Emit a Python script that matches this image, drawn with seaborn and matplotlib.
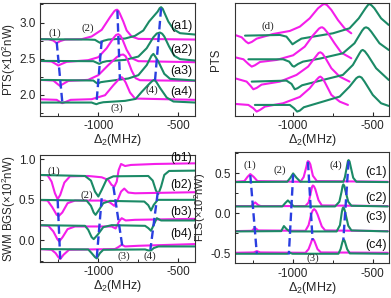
import numpy as np
import matplotlib
matplotlib.use("Agg")
import matplotlib.pyplot as plt
import seaborn as sns
from matplotlib.ticker import MultipleLocator, FormatStrFormatter

# ---------------- data: panel (a) PTS ----------------
A1_PINK_X = [-1375, -1312, -1281, -1260, -1240, -1208, -1104, -1042, -979, -927, -900, -891, -883, -874, -865, -844, -823, -792, -750, -583, -396]
A1_PINK_Y = [2.770, 2.770, 2.751, 2.715, 2.742, 2.765, 2.770, 2.807, 2.899, 3.074, 3.157, 3.172, 3.177, 3.160, 3.120, 3.014, 2.890, 2.807, 2.774, 2.770, 2.765]
A1_GREEN_X = [-1375, -1063, -1021, -1000, -988, -969, -938, -833, -771, -719, -683, -656, -629, -617, -608, -598, -588, -563, -531, -490, -396]
A1_GREEN_Y = [2.770, 2.765, 2.761, 2.733, 2.719, 2.747, 2.765, 2.779, 2.816, 2.890, 3.014, 3.083, 3.152, 3.198, 3.212, 3.190, 3.138, 3.014, 2.908, 2.853, 2.834]

A2_PINK_X = [-1375, -1292, -1267, -1250, -1233, -1198, -1063, -1000, -948, -906, -889, -875, -862, -850, -823, -792, -750, -396]
A2_PINK_Y = [2.470, 2.461, 2.429, 2.406, 2.424, 2.457, 2.480, 2.521, 2.645, 2.784, 2.828, 2.839, 2.818, 2.770, 2.622, 2.507, 2.466, 2.452]
A2_GREEN_X = [-1375, -1031, -1008, -994, -975, -948, -833, -750, -698, -656, -635, -615, -601, -588, -558, -525, -490, -396]
A2_GREEN_Y = [2.470, 2.466, 2.443, 2.429, 2.452, 2.466, 2.484, 2.530, 2.645, 2.797, 2.848, 2.862, 2.845, 2.807, 2.668, 2.540, 2.494, 2.475]

A3_PINK_X = [-1375, -1281, -1256, -1240, -1219, -1187, -1063, -1000, -938, -885, -862, -844, -830, -817, -792, -767, -740, -396]
A3_PINK_Y = [2.208, 2.199, 2.153, 2.125, 2.153, 2.194, 2.208, 2.273, 2.411, 2.521, 2.552, 2.558, 2.535, 2.484, 2.337, 2.231, 2.203, 2.194]
A3_GREEN_X = [-1375, -1031, -1015, -1004, -985, -958, -813, -750, -698, -668, -656, -644, -625, -588, -552, -396]
A3_GREEN_Y = [2.208, 2.199, 2.171, 2.157, 2.176, 2.185, 2.227, 2.273, 2.411, 2.540, 2.567, 2.530, 2.461, 2.291, 2.222, 2.199]

A4_PINK_X = [-1375, -1260, -1240, -1225, -1204, -1173, -1042, -958, -906, -875, -862, -854, -844, -829, -802, -771, -396]
A4_PINK_Y = [1.941, 1.932, 1.904, 1.886, 1.904, 1.932, 1.941, 1.996, 2.134, 2.208, 2.238, 2.245, 2.225, 2.171, 2.033, 1.950, 1.932]
A4_GREEN_X = [-1375, -1042, -1025, -1012, -996, -969, -833, -767, -729, -688, -662, -650, -638, -615, -573, -531, -396]
A4_GREEN_Y = [1.895, 1.895, 1.881, 1.872, 1.886, 1.899, 1.918, 1.945, 2.042, 2.139, 2.195, 2.208, 2.180, 2.098, 1.964, 1.909, 1.895]

A_DASH_X = [[-1260, -1225], [-979, -1010], [-881, -865], [-608, -646]]
A_DASH_Y = [[2.73, 1.90], [2.751, 1.932], [3.166, 2.208], [3.198, 2.199]]
A_NUM_X = [-1271, -1063, -885, -667]
A_NUM_Y = [2.853, 2.922, 1.817, 2.06]
A_TAGS = ["(a1)", "(a2)", "(a3)", "(a4)"]
A_TAG_Y = [2.954, 2.622, 2.337, 2.04]

# ---------------- data: panel (d) PTS (simulated) ----------------
D1_PINK_X = [-1365, -1323, -1296, -1281, -1260, -1229, -1125, -1021, -958, -896, -844, -815, -802, -788, -760, -719, -677, -635]
D1_PINK_Y = [2.43, 2.36, 2.23, 2.18, 2.22, 2.32, 2.46, 2.55, 2.68, 2.93, 3.23, 3.34, 3.36, 3.33, 3.18, 2.88, 2.63, 2.48]
D1_GREEN_X = [-1302, -1083, -1042, -1017, -1004, -979, -948, -875, -750, -646, -588, -546, -530, -521, -508, -490, -448, -400]
D1_GREEN_Y = [2.41, 2.43, 2.38, 2.23, 2.15, 2.23, 2.32, 2.38, 2.48, 2.63, 2.93, 3.23, 3.33, 3.36, 3.32, 3.23, 2.93, 2.73]

D2_PINK_X = [-1365, -1312, -1281, -1260, -1240, -1208, -1104, -1000, -927, -875, -838, -826, -817, -805, -781, -740, -698, -635]
D2_PINK_Y = [1.76, 1.70, 1.56, 1.48, 1.52, 1.62, 1.68, 1.82, 2.08, 2.42, 2.62, 2.655, 2.66, 2.62, 2.48, 2.18, 1.90, 1.73]
D2_GREEN_X = [-1281, -1063, -1025, -1004, -994, -969, -938, -833, -688, -615, -567, -553, -542, -528, -510, -458, -400]
D2_GREEN_Y = [1.70, 1.70, 1.63, 1.50, 1.48, 1.56, 1.63, 1.72, 1.88, 2.18, 2.56, 2.64, 2.66, 2.63, 2.53, 2.18, 1.98]

D3_PINK_X = [-1365, -1292, -1267, -1250, -1229, -1198, -1083, -979, -906, -858, -840, -829, -816, -800, -760, -708, -646]
D3_PINK_Y = [1.13, 1.03, 0.90, 0.80, 0.84, 0.94, 1.03, 1.23, 1.48, 1.78, 1.89, 1.91, 1.87, 1.76, 1.43, 1.18, 1.03]
D3_GREEN_X = [-1260, -1042, -1010, -990, -973, -944, -813, -688, -625, -583, -572, -563, -550, -531, -479, -400]
D3_GREEN_Y = [1.03, 1.06, 0.96, 0.80, 0.83, 0.92, 1.08, 1.23, 1.53, 1.88, 1.96, 1.98, 1.94, 1.82, 1.43, 1.08]

D4_PINK_X = [-1365, -1281, -1250, -1229, -1208, -1177, -1063, -958, -896, -854, -838, -829, -818, -802, -760, -708, -656]
D4_PINK_Y = [0.36, 0.33, 0.23, 0.13, 0.18, 0.28, 0.38, 0.57, 0.83, 1.08, 1.16, 1.18, 1.14, 1.02, 0.63, 0.43, 0.33]
D4_GREEN_X = [-1240, -1021, -994, -975, -958, -933, -813, -708, -646, -604, -592, -583, -570, -552, -500, -448, -400]
D4_GREEN_Y = [0.33, 0.33, 0.23, 0.13, 0.16, 0.26, 0.43, 0.58, 0.88, 1.13, 1.17, 1.18, 1.15, 1.03, 0.63, 0.38, 0.30]

D_TAG_X = -1156
D_TAG_Y = 2.68

# ---------------- data: panel (b) SWM BGS ----------------
B1_PINK_X = [-1375, -1317, -1292, -1271, -1254, -1238, -1212, -1177, -1063, -979, -938, -917, -900, -885, -873, -858, -833, -796, -646, -396]
B1_PINK_Y = [0.807, 0.803, 0.725, 0.581, 0.508, 0.561, 0.713, 0.790, 0.794, 0.778, 0.745, 0.684, 0.663, 0.725, 0.868, 0.942, 0.917, 0.930, 0.942, 0.950]
B1_GREEN_X = [-1375, -1083, -1046, -1021, -1000, -979, -948, -906, -688, -660, -640, -625, -608, -588, -558, -396]
B1_GREEN_Y = [0.807, 0.794, 0.737, 0.602, 0.541, 0.622, 0.753, 0.790, 0.794, 0.737, 0.614, 0.573, 0.663, 0.807, 0.856, 0.860]

B2_PINK_X = [-1375, -1317, -1288, -1260, -1246, -1225, -1192, -1146, -958, -927, -900, -879, -858, -838, -813, -771, -396]
B2_PINK_Y = [0.500, 0.491, 0.410, 0.315, 0.303, 0.344, 0.459, 0.491, 0.491, 0.467, 0.426, 0.500, 0.602, 0.639, 0.590, 0.581, 0.594]
B2_GREEN_X = [-1375, -1073, -1046, -1029, -1017, -996, -969, -927, -713, -688, -671, -654, -629, -396]
B2_GREEN_Y = [0.500, 0.491, 0.426, 0.344, 0.315, 0.377, 0.459, 0.487, 0.479, 0.434, 0.369, 0.438, 0.500, 0.500]

B3_PINK_X = [-1375, -1312, -1281, -1256, -1244, -1223, -1192, -1146, -917, -892, -871, -854, -829, -771, -396]
B3_PINK_Y = [0.188, 0.180, 0.111, 0.016, -0.012, 0.041, 0.139, 0.172, 0.172, 0.147, 0.233, 0.274, 0.246, 0.254, 0.266]
B3_GREEN_X = [-1375, -1083, -1063, -1042, -1029, -1004, -969, -917, -708, -688, -671, -654, -635, -608, -396]
B3_GREEN_Y = [0.188, 0.180, 0.131, 0.041, 0.016, 0.070, 0.164, 0.188, 0.180, 0.152, 0.119, 0.192, 0.274, 0.246, 0.246]

B4_PINK_X = [-1375, -1292, -1267, -1250, -1238, -1217, -1183, -896, -875, -854, -833, -750, -396]
B4_PINK_Y = [-0.106, -0.115, -0.156, -0.205, -0.229, -0.176, -0.115, -0.106, -0.082, -0.053, -0.074, -0.066, -0.045]
B4_GREEN_X = [-1375, -1063, -1042, -1021, -1010, -990, -969, -708, -688, -671, -654, -625, -396]
B4_GREEN_Y = [-0.106, -0.111, -0.156, -0.205, -0.221, -0.156, -0.115, -0.111, -0.123, -0.123, -0.094, -0.074, -0.074]

B_DASH_X = [[-1254, -1238], [-979, -1010], [-906, -850], [-629, -675]]
B_DASH_Y = [[0.50, -0.23], [0.52, -0.217], [0.663, -0.074], [0.59, -0.115]]
B_NUM_X = [-1281, -1073, -838, -677]
B_NUM_Y = [0.848, 0.561, -0.197, -0.197]
B_TAGS = ["(b1)", "(b2)", "(b3)", "(b4)"]
B_TAG_Y = [1.02, 0.68, 0.35, 0.08]

# ---------------- data: panel (c) FLS ----------------
C1_PINK_X = [-1368, -1306, -1286, -1269, -1248, -1224, -954, -934, -917, -911, -907, -900, -892, -876, -851, -406]
C1_PINK_Y = [0.396, 0.404, 0.458, 0.492, 0.458, 0.404, 0.396, 0.454, 0.583, 0.637, 0.654, 0.645, 0.613, 0.471, 0.404, 0.396]
C1_GREEN_X = [-1368, -1037, -1017, -1000, -979, -954, -685, -675, -661, -656, -652, -646, -640, -623, -603, -406]
C1_GREEN_Y = [0.392, 0.396, 0.446, 0.500, 0.446, 0.396, 0.396, 0.454, 0.604, 0.655, 0.667, 0.650, 0.596, 0.446, 0.396, 0.392]

C2_PINK_X = [-1368, -1264, -1248, -1238, -1219, -1203, -923, -903, -888, -881, -876, -869, -861, -841, -820, -406]
C2_PINK_Y = [0.092, 0.092, 0.121, 0.1375, 0.104, 0.092, 0.092, 0.1375, 0.271, 0.335, 0.350, 0.338, 0.304, 0.167, 0.100, 0.092]
C2_GREEN_X = [-1368, -1068, -1048, -1033, -1012, -996, -737, -710, -696, -690, -685, -679, -673, -654, -634, -406]
C2_GREEN_Y = [0.0875, 0.0875, 0.133, 0.1625, 0.121, 0.0875, 0.0875, 0.146, 0.271, 0.340, 0.3625, 0.345, 0.292, 0.146, 0.096, 0.0875]

C3_PINK_X = [-1368, -1259, -1240, -1219, -923, -903, -886, -876, -868, -858, -847, -820, -799, -406]
C3_PINK_Y = [-0.221, -0.217, -0.179, -0.2125, -0.217, -0.146, -0.004, 0.040, 0.054, 0.035, -0.0125, -0.1625, -0.2125, -0.221]
C3_GREEN_X = [-1368, -1075, -1058, -1041, -1021, -727, -706, -694, -689, -685, -680, -673, -654, -634, -406]
C3_GREEN_Y = [-0.225, -0.221, -0.158, -0.196, -0.225, -0.225, -0.146, 0.021, 0.065, 0.075, 0.062, 0.0125, -0.154, -0.2125, -0.225]

C4_PINK_X = [-1368, -1248, -1228, -1207, -923, -903, -888, -882, -876, -870, -863, -847, -826, -406]
C4_PINK_Y = [-0.492, -0.4875, -0.471, -0.4875, -0.492, -0.446, -0.367, -0.330, -0.321, -0.330, -0.3625, -0.446, -0.4875, -0.492]
C4_GREEN_X = [-1368, -1037, -1021, -1004, -716, -702, -692, -687, -683, -678, -673, -661, -644, -406]
C4_GREEN_Y = [-0.504, -0.504, -0.492, -0.504, -0.504, -0.446, -0.367, -0.335, -0.329, -0.337, -0.367, -0.446, -0.500, -0.504]

C_DASH_X = [[-1269, -1228], [-1000, -1027], [-907, -878], [-652, -685]]
C_DASH_Y = [[0.479, -0.504], [0.4875, -0.5125], [0.646, -0.333], [0.654, -0.333]]
C_NUM_X = [-1275, -1083, -876, -731]
C_NUM_Y = [0.604, 0.542, -0.5625, 0.604]
C_TAGS = ["(c1)", "(c2)", "(c3)", "(c4)"]
C_TAG_Y = [0.5125, 0.196, -0.04, -0.396]

NUMS = ["(1)", "(2)", "(3)", "(4)"]

# ---------------- style ----------------
PINK = "#F41EEA"
GREEN = "#1B8A66"
BLUE = "#2A3EE0"

sns.set_style("ticks")
plt.rcParams["font.family"] = ["Liberation Sans", "DejaVu Sans"]
plt.rcParams["mathtext.fontset"] = "custom"
plt.rcParams["mathtext.rm"] = "Liberation Sans"
plt.rcParams["mathtext.it"] = "Liberation Sans:italic"
plt.rcParams["axes.unicode_minus"] = False

fig = plt.figure(figsize=(3.91, 2.98), dpi=100)
ax_a = fig.add_axes([0.102, 0.611, 0.396, 0.379])
ax_d = fig.add_axes([0.601, 0.611, 0.394, 0.379])
ax_b = fig.add_axes([0.102, 0.121, 0.396, 0.359])
ax_c = fig.add_axes([0.601, 0.116, 0.394, 0.3745])

XLIM = (-1365, -398)
LW = 1.5


def curve(ax, xs, ys, color):
    sns.lineplot(x=xs, y=ys, ax=ax, color=color, lw=LW, sort=False,
                 estimator=None, legend=False)


def dashes(ax, dx, dy):
    for xs, ys in zip(dx, dy):
        sns.lineplot(x=xs, y=ys, ax=ax, color=BLUE, lw=1.7, sort=False,
                     estimator=None, legend=False, linestyle=(0, (3.6, 1.8)))


def style_axes(ax, ylim, ylabel, label_x, yticks=True, ysize=8.3):
    ax.set_xlim(*XLIM)
    ax.set_ylim(*ylim)
    ax.xaxis.set_major_locator(MultipleLocator(500))
    ax.xaxis.set_minor_locator(MultipleLocator(250))
    if yticks:
        ax.yaxis.set_major_locator(MultipleLocator(0.5))
        ax.yaxis.set_minor_locator(MultipleLocator(0.25))
        ax.yaxis.set_major_formatter(FormatStrFormatter("%.1f"))
    else:
        ax.set_yticks([])
    ax.tick_params(which="major", direction="in", length=3, width=0.8,
                   labelsize=8.5, pad=3.2)
    ax.tick_params(which="minor", direction="in", length=2, width=0.7)
    for sp in ax.spines.values():
        sp.set_linewidth(0.8)
        sp.set_color("#333333")
    ax.set_xlabel(r"$\Delta_2$(MHz)", fontsize=9, labelpad=0)
    ax.set_ylabel(ylabel, fontsize=ysize)
    ax.yaxis.set_label_coords(label_x, 0.5)


def serif_text(ax, x, y, s):
    ax.text(x, y, s, fontsize=7.8, family=["Liberation Serif", "DejaVu Serif"],
            ha="center", va="center", color="#222222")


def tags(ax, names, ys, size=9):
    for n, y in zip(names, ys):
        ax.text(0.985, y, n, transform=ax.get_yaxis_transform(), fontsize=size,
                ha="right", va="center", color="#111111")


# panel (a)
for xs, ys, c in [(A1_PINK_X, A1_PINK_Y, PINK), (A1_GREEN_X, A1_GREEN_Y, GREEN),
                  (A2_PINK_X, A2_PINK_Y, PINK), (A2_GREEN_X, A2_GREEN_Y, GREEN),
                  (A3_PINK_X, A3_PINK_Y, PINK), (A3_GREEN_X, A3_GREEN_Y, GREEN),
                  (A4_PINK_X, A4_PINK_Y, PINK), (A4_GREEN_X, A4_GREEN_Y, GREEN)]:
    curve(ax_a, xs, ys, c)
dashes(ax_a, A_DASH_X, A_DASH_Y)
for n, x, y in zip(NUMS, A_NUM_X, A_NUM_Y):
    serif_text(ax_a, x, y, n)
tags(ax_a, A_TAGS, A_TAG_Y)
style_axes(ax_a, (1.71, 3.27), r"PTS($\times$10$^2$nW)", -0.14)

# panel (d)
for xs, ys, c in [(D1_PINK_X, D1_PINK_Y, PINK), (D1_GREEN_X, D1_GREEN_Y, GREEN),
                  (D2_PINK_X, D2_PINK_Y, PINK), (D2_GREEN_X, D2_GREEN_Y, GREEN),
                  (D3_PINK_X, D3_PINK_Y, PINK), (D3_GREEN_X, D3_GREEN_Y, GREEN),
                  (D4_PINK_X, D4_PINK_Y, PINK), (D4_GREEN_X, D4_GREEN_Y, GREEN)]:
    curve(ax_d, xs, ys, c)
serif_text(ax_d, D_TAG_X, D_TAG_Y, "(d)")
style_axes(ax_d, (0.0, 3.39), "PTS", -0.085, yticks=False)

# panel (b)
for xs, ys, c in [(B1_PINK_X, B1_PINK_Y, PINK), (B1_GREEN_X, B1_GREEN_Y, GREEN),
                  (B2_PINK_X, B2_PINK_Y, PINK), (B2_GREEN_X, B2_GREEN_Y, GREEN),
                  (B3_PINK_X, B3_PINK_Y, PINK), (B3_GREEN_X, B3_GREEN_Y, GREEN),
                  (B4_PINK_X, B4_PINK_Y, PINK), (B4_GREEN_X, B4_GREEN_Y, GREEN)]:
    curve(ax_b, xs, ys, c)
dashes(ax_b, B_DASH_X, B_DASH_Y)
for n, x, y in zip(NUMS, B_NUM_X, B_NUM_Y):
    serif_text(ax_b, x, y, n)
tags(ax_b, B_TAGS, B_TAG_Y, size=8.7)
style_axes(ax_b, (-0.265, 1.053), r"SWM BGS($\times$10$^2$nW)", -0.14)

# panel (c)
for xs, ys, c in [(C1_PINK_X, C1_PINK_Y, PINK), (C1_GREEN_X, C1_GREEN_Y, GREEN),
                  (C2_PINK_X, C2_PINK_Y, PINK), (C2_GREEN_X, C2_GREEN_Y, GREEN),
                  (C3_PINK_X, C3_PINK_Y, PINK), (C3_GREEN_X, C3_GREEN_Y, GREEN),
                  (C4_PINK_X, C4_PINK_Y, PINK), (C4_GREEN_X, C4_GREEN_Y, GREEN)]:
    curve(ax_c, xs, ys, c)
dashes(ax_c, C_DASH_X, C_DASH_Y)
for n, x, y in zip(NUMS, C_NUM_X, C_NUM_Y):
    serif_text(ax_c, x, y, n)
tags(ax_c, C_TAGS, C_TAG_Y)
style_axes(ax_c, (-0.625, 0.77), r"FLS($\times$10$^2$nW)", -0.172, ysize=8.0)

fig.savefig("out.png", dpi=100)
